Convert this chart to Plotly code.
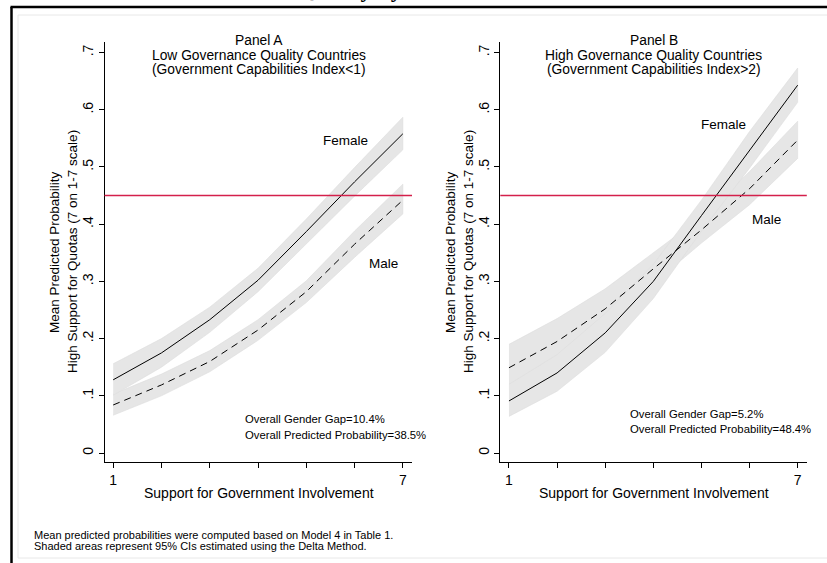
import plotly.graph_objects as go

W, H = 827, 563

# ---------------- data ----------------
support = [1, 2, 3, 4, 5, 6, 7]
x_tick_labels = ["1", "", "", "", "", "", "7"]
y_tick_vals = [0, 0.1, 0.2, 0.3, 0.4, 0.5, 0.6, 0.7]
y_tick_labels = ["0", ".1", ".2", ".3", ".4", ".5", ".6", ".7"]
reference_line = 0.45

# Panel A: low governance quality
a_female = [0.128, 0.175, 0.233, 0.302, 0.387, 0.474, 0.558]
a_female_lo = [0.101, 0.150, 0.211, 0.282, 0.365, 0.449, 0.530]
a_female_hi = [0.156, 0.200, 0.255, 0.323, 0.409, 0.499, 0.587]
a_male = [0.084, 0.119, 0.160, 0.215, 0.282, 0.365, 0.442]
a_male_lo = [0.066, 0.100, 0.142, 0.197, 0.263, 0.342, 0.418]
a_male_hi = [0.103, 0.138, 0.179, 0.233, 0.301, 0.388, 0.470]

# Panel B: high governance quality
b_female = [0.091, 0.140, 0.210, 0.300, 0.415, 0.530, 0.643]
b_female_lo = [0.064, 0.108, 0.176, 0.270, 0.388, 0.498, 0.613]
b_female_hi = [0.120, 0.172, 0.244, 0.330, 0.442, 0.562, 0.673]
b_male = [0.149, 0.195, 0.252, 0.322, 0.390, 0.462, 0.547]
b_male_lo = [0.110, 0.158, 0.218, 0.296, 0.367, 0.434, 0.515]
b_male_hi = [0.190, 0.235, 0.287, 0.350, 0.413, 0.492, 0.580]

panel_titles = [
    ["Panel A", "Low Governance Quality Countries", "(Government Capabilities Index<1)"],
    ["Panel B", "High Governance Quality Countries", "(Government Capabilities Index>2)"],
]
gap_texts = [
    ["Overall Gender Gap=10.4%", "Overall Predicted Probability=38.5%"],
    ["Overall Gender Gap=5.2%", "Overall Predicted Probability=48.4%"],
]
y_title = ["Mean Predicted Probability", "High Support for Quotas (7 on 1-7 scale)"]
x_title = "Support for Government Involvement"
footnotes = [
    "Mean predicted probabilities were computed based on Model 4 in Table 1.",
    "Shaded areas represent 95% CIs estimated using the Delta Method.",
]

# ---------------- helpers ----------------
def px(x):
    return x / W

def py(y):
    return 1 - y / H

FONT = "Liberation Sans, Arial, sans-serif"
BAND = "#e6e6e6"
RED = "#d4204b"

fig = go.Figure()

panels = [
    dict(xa="x", ya="y", f=a_female, flo=a_female_lo, fhi=a_female_hi,
         m=a_male, mlo=a_male_lo, mhi=a_male_hi),
    dict(xa="x2", ya="y2", f=b_female, flo=b_female_lo, fhi=b_female_hi,
         m=b_male, mlo=b_male_lo, mhi=b_male_hi),
]

for p in panels:
    for lo, hi in ((p["mlo"], p["mhi"]), (p["flo"], p["fhi"])):
        fig.add_trace(go.Scatter(
            x=support + support[::-1], y=hi + lo[::-1],
            fill="toself", fillcolor=BAND, mode="lines",
            line=dict(color="#dedede", width=0.6),
            xaxis=p["xa"], yaxis=p["ya"], showlegend=False, hoverinfo="skip"))
    fig.add_trace(go.Scatter(
        x=support, y=p["m"], mode="lines",
        line=dict(color="black", width=1, dash="7px,5px"),
        xaxis=p["xa"], yaxis=p["ya"], showlegend=False))
    fig.add_trace(go.Scatter(
        x=support, y=p["f"], mode="lines",
        line=dict(color="black", width=1),
        xaxis=p["xa"], yaxis=p["ya"], showlegend=False))

# axis geometry (pixels)
xr = [0.82, 7.19]
yr = [-0.0157, 0.7185]
ydom = [py(462), py(42)]
xdomA = [px(104.5), px(412)]
xdomB = [px(500.3), px(806.8)]

xcommon = dict(range=xr, showline=True, linecolor="black", linewidth=1,
               showgrid=False, zeroline=False, ticks="outside", ticklen=5,
               tickwidth=1, tickcolor="black", tickvals=support,
               ticktext=x_tick_labels, tickfont=dict(family=FONT, size=14, color="black"))
ycommon = dict(range=yr, domain=ydom, showline=True, linecolor="black", linewidth=1,
               showgrid=False, zeroline=False, ticks="outside", ticklen=5,
               tickwidth=1, tickcolor="black", tickvals=y_tick_vals,
               ticktext=y_tick_labels, tickangle=-90,
               tickfont=dict(family=FONT, size=14, color="black"))

fig.update_layout(
    width=W, height=H,
    margin=dict(l=0, r=0, t=0, b=0),
    paper_bgcolor="white", plot_bgcolor="white",
    xaxis=dict(domain=xdomA, anchor="y", **xcommon),
    yaxis=dict(anchor="x", **ycommon),
    xaxis2=dict(domain=xdomB, anchor="y2", **xcommon),
    yaxis2=dict(anchor="x2", **ycommon),
    font=dict(family=FONT, color="black"),
)

# reference lines
for xref in ("x domain", "x2 domain"):
    yref = "y" if xref.startswith("x ") else "y2"
    fig.add_shape(type="line", xref=xref, yref=yref, x0=0, x1=1,
                  y0=reference_line, y1=reference_line,
                  line=dict(color=RED, width=1.5))

# frame
fig.add_shape(type="rect", xref="paper", yref="paper",
              x0=px(18), x1=px(830), y0=py(558), y1=py(15),
              line=dict(color="#e8e8e8", width=1), layer="below")
fig.add_shape(type="line", xref="paper", yref="paper",
              x0=px(11.5), x1=px(11.5), y0=py(565), y1=py(7),
              line=dict(color="black", width=2.5))
fig.add_shape(type="line", xref="paper", yref="paper",
              x0=px(10.5), x1=px(830), y0=py(7), y1=py(7),
              line=dict(color="black", width=2.5))

ann = []

def text(x, y, s, size, xanchor="center", angle=0, yanchor="middle", **kw):
    ann.append(dict(x=px(x), y=py(y), xref="paper", yref="paper", text=s,
                    showarrow=False, xanchor=xanchor, yanchor=yanchor,
                    textangle=angle, font=dict(family=kw.get("family", FONT),
                                               size=size, color="black")))

# clipped document title at the very top
text(350, 4, "<b>Quality by</b>", 23, yanchor="bottom",
     family="Liberation Serif, Times New Roman, serif")

centers = [258.5, 653.5]
for i, c in enumerate(centers):
    for j, line in enumerate(panel_titles[i]):
        text(c, 40 + 15 * j, line, 13.8)
    text(c, 493, x_title, 14)

# y titles
for x1, x2 in ((55, 73), (451, 469)):
    text(x1, 252, y_title[0], 13.5, angle=-90)
    text(x2, 252, y_title[1], 13.5, angle=-90)

# series labels
text(345, 140, "Female", 13.5)
text(383, 263, "Male", 13.5)
text(723, 124, "Female", 13.5)
text(766, 219, "Male", 13.5)

# overall stats
text(243, 419, gap_texts[0][0], 11.3, xanchor="left")
text(243, 435, gap_texts[0][1], 11.3, xanchor="left")
text(628, 414, gap_texts[1][0], 11.3, xanchor="left")
text(628, 429, gap_texts[1][1], 11.3, xanchor="left")

# footnotes
text(32, 535, footnotes[0], 11, xanchor="left")
text(32, 546, footnotes[1], 11, xanchor="left")

fig.update_layout(annotations=ann)
fig.write_html("out.html")
